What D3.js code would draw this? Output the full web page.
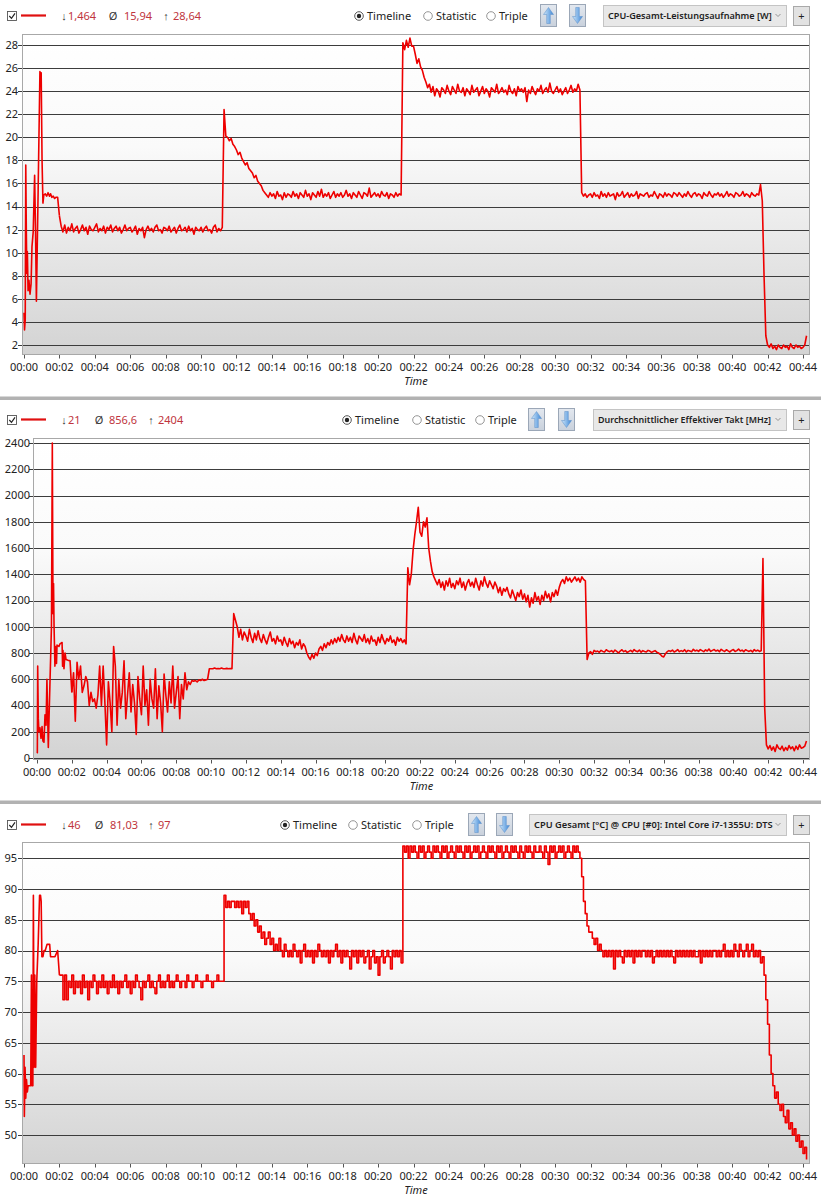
<!DOCTYPE html>
<html><head><meta charset="utf-8">
<script src="https://cdn.jsdelivr.net/npm/d3@7"></script>
<style>body{margin:0;background:#fff;}svg{display:block;font-family:"Segoe UI","Noto Sans","Open Sans",sans-serif;}</style>
</head><body><svg id="c" width="821" height="1200"></svg>
<script>
// ---------- DATA ----------
const tickMinutes = [0,2,4,6,8,10,12,14,16,18,20,22,24,26,28,30,32,34,36,38,40,42,44];
const tickLabels = ["00:00","00:02","00:04","00:06","00:08","00:10","00:12","00:14","00:16","00:18","00:20","00:22","00:24","00:26","00:28","00:30","00:32","00:34","00:36","00:38","00:40","00:42","00:44"];
const powerTicks = [2,4,6,8,10,12,14,16,18,20,22,24,26,28];
const clockTicks = [0,200,400,600,800,1000,1200,1400,1600,1800,2000,2200,2400];
const tempTicks = [50,55,60,65,70,75,80,85,90,95];

const powerStats = ["1,464","15,94","28,64"];
const clockStats = ["21","856,6","2404"];
const tempStats = ["46","81,03","97"];

const powerName = "CPU-Gesamt-Leistungsaufnahme [W]";
const clockName = "Durchschnittlicher Effektiver Takt [MHz]";
const tempName = "CPU Gesamt [°C] @ CPU [#0]: Intel Core i7-1355U: DTS";
const modeLabels = ["Timeline","Statistic","Triple"];

const mainStart = 2.0;   // minutes, first sample of the regular arrays
const sampleStep = 0.1;  // minutes between regular samples

// first two minutes: [minute, value]
const powerEarly = [[0,4.8],[0.03,3.3],[0.07,4.2],[0.1,17.6],[0.13,12.0],[0.16,8.2],[0.19,10.1],[0.23,6.7],[0.28,7.6],[0.34,6.4],[0.4,7.3],[0.45,10.5],[0.52,11.8],[0.6,16.7],[0.65,12.1],[0.7,5.8],[0.8,15.5],[0.9,25.7],[0.94,25.2],[0.97,25.6],[1.02,18.0],[1.07,14.3],[1.12,15.0],[1.2,15.1],[1.28,14.9],[1.36,15.2],[1.44,14.9],[1.5,15.1],[1.57,14.8],[1.65,14.9],[1.73,14.7],[1.8,14.8],[1.9,14.8]];
const powerMain = [
13.2,12.3,11.8,12.4,11.7,12.2,11.9,12.5,11.8,12.1,
12.3,11.7,12.0,12.4,11.9,12.2,11.6,12.3,12.0,11.9,
12.2,12.5,11.8,12.1,11.9,12.3,11.7,12.2,12.0,12.4,
11.8,12.1,12.3,11.9,12.2,11.7,12.0,12.4,11.9,12.1,
12.2,11.8,12.0,12.3,11.6,12.1,11.9,12.2,11.3,12.0,
12.3,11.9,12.1,11.8,12.2,12.4,11.9,12.0,11.7,12.2,
12.1,11.9,12.3,11.8,12.0,12.2,11.7,12.1,12.4,11.9,
12.0,12.2,11.8,12.3,11.9,12.1,11.6,12.2,12.0,11.9,
12.2,11.8,12.1,12.3,11.9,12.0,11.7,12.2,12.4,11.8,
12.1,11.9,12.2,22.4,20.1,20.0,19.7,19.9,19.4,19.2,
18.9,18.5,18.7,18.2,17.9,17.6,17.8,17.3,17.1,16.9,
16.5,16.7,16.2,16.0,15.8,15.4,15.2,15.0,14.8,15.2,
14.9,15.1,14.7,15.3,14.9,15.0,14.6,15.2,14.8,15.1,
15.0,14.8,15.3,14.9,15.1,14.7,15.2,15.0,14.8,15.4,
14.9,15.1,14.6,15.2,15.0,14.8,15.3,14.9,15.5,14.8,
15.1,14.9,15.2,14.7,15.0,15.3,14.8,15.1,14.9,15.2,
14.8,15.0,15.4,14.9,15.1,14.7,15.2,15.0,14.8,15.3,
15.0,14.7,15.2,15.1,14.9,15.6,14.8,15.0,15.2,14.9,
15.1,14.8,15.3,15.0,14.9,15.2,14.7,15.1,15.0,14.8,
15.2,14.9,15.1,15.0,28.2,27.6,28.4,27.8,28.6,27.9,
27.9,27.2,26.4,26.8,26.1,25.8,25.2,24.8,24.3,24.6,
23.9,24.4,23.6,24.2,24.0,23.5,24.3,24.1,23.8,24.5,
24.0,23.7,24.4,24.1,23.8,24.6,24.0,23.9,24.3,23.6,
24.2,24.0,23.7,24.5,23.9,24.1,24.3,23.6,24.0,24.4,
23.8,24.2,24.0,23.5,24.3,24.1,23.9,24.6,23.8,24.0,
24.3,23.9,24.1,23.7,24.5,24.0,23.8,24.2,23.6,24.4,
24.0,24.2,23.9,24.3,23.1,24.1,23.8,24.4,24.0,23.7,
24.2,24.0,24.5,23.8,24.1,24.3,23.9,24.7,24.0,23.8,
24.1,24.4,23.9,24.2,23.7,24.0,24.3,23.8,24.1,24.5,
23.9,24.2,24.0,24.6,24.1,15.2,14.9,15.1,14.8,15.0,
15.1,14.8,15.2,14.9,15.0,14.7,15.3,14.9,15.1,14.8,
15.2,14.9,15.0,15.1,14.6,15.2,14.9,15.0,15.3,14.8,
15.0,15.2,14.8,15.1,14.9,15.0,15.3,14.7,15.1,15.0,
14.9,15.1,15.2,14.8,15.0,14.9,15.3,15.0,14.7,15.1,
15.0,14.8,15.2,14.9,15.1,15.0,14.8,15.2,15.1,14.9,
15.2,15.0,14.8,15.1,14.9,15.3,15.0,14.8,15.1,15.2,
14.9,15.1,15.0,14.7,15.2,15.0,14.9,15.3,15.0,14.8,
15.1,15.0,15.2,14.9,15.1,14.8,15.0,15.3,14.9,15.1,
15.0,14.8,15.2,15.1,14.9,15.0,15.3,14.9,15.1,15.0,
14.8,15.2,15.0,14.9,15.1,15.0,15.9,14.5,8.0,2.8,
2.0,1.8,2.1,1.7,1.9,1.6,2.0,1.8,1.7,2.0,
1.8,1.9,1.6,2.1,1.8,1.7,2.0,1.8,1.9,1.7,
1.8,2.0,2.8];

const clockEarly = [[0,45],[0.02,40],[0.04,700],[0.075,300],[0.11,200],[0.17,230],[0.23,150],[0.29,240],[0.34,130],[0.4,120],[0.46,330],[0.52,250],[0.57,600],[0.65,80],[0.69,300],[0.75,600],[0.83,1000],[0.88,2400],[0.92,1100],[0.95,1330],[0.98,1000],[1.03,700],[1.06,850],[1.12,720],[1.15,860],[1.26,850],[1.32,870],[1.44,880],[1.47,700],[1.49,820],[1.55,680],[1.61,800],[1.67,750],[1.78,745],[1.9,740]];
const clockMain = [
500,650,280,730,600,700,500,550,620,580,
400,500,430,450,380,480,700,400,700,420,
100,580,420,200,850,700,250,600,380,500,
740,300,480,650,350,560,420,180,620,450,
330,700,400,520,250,600,450,380,680,300,
550,420,200,640,480,350,580,420,700,380,
500,620,300,560,450,650,520,580,560,590,
585,590,580,595,590,600,590,595,600,680,
680,680,685,680,682,680,685,680,680,683,
680,682,680,1100,1050,1000,920,980,900,960,
930,890,980,920,880,950,900,970,910,880,
940,900,870,920,960,890,910,870,930,890,
900,860,920,880,850,910,870,890,840,880,
860,900,830,870,850,800,770,750,790,760,
800,780,830,850,820,870,840,880,860,900,
870,910,880,920,890,940,900,880,930,890,
920,880,950,900,870,930,910,890,940,880,
910,870,930,890,900,860,920,880,940,900,
870,910,890,930,880,900,860,920,890,910,
880,900,870,1450,1320,1400,1580,1700,1800,1910,
1720,1690,1800,1760,1830,1600,1500,1420,1380,1350,
1320,1360,1300,1340,1280,1350,1310,1370,1300,1330,
1290,1350,1320,1370,1300,1340,1280,1330,1360,1310,
1340,1300,1370,1320,1280,1350,1310,1380,1330,1300,
1350,1320,1290,1340,1310,1260,1300,1240,1290,1270,
1300,1250,1220,1280,1240,1200,1260,1230,1280,1210,
1250,1190,1240,1150,1220,1180,1260,1200,1230,1170,
1240,1200,1270,1220,1250,1190,1260,1230,1280,1240,
1300,1340,1360,1330,1380,1350,1370,1340,1360,1380,
1350,1370,1340,1380,1360,1350,750,800,810,790,
820,810,815,805,820,812,808,825,815,810,
818,806,822,812,800,815,825,810,818,805,
812,820,808,826,815,810,822,806,818,812,
808,820,815,805,812,818,806,800,790,775,
770,795,810,818,812,822,808,815,826,810,
818,812,825,808,820,815,810,828,816,822,
812,826,818,810,824,815,830,812,820,826,
815,822,810,828,818,812,825,816,808,820,
826,812,818,830,815,822,810,825,818,812,
820,808,826,815,822,812,818,1520,380,100,
70,95,60,85,50,100,75,65,90,55,
80,60,95,70,85,55,90,65,100,75,
80,90,130];

const tempEarly = [[0,63],[0.02,53],[0.06,61],[0.1,56],[0.14,59],[0.19,57],[0.23,58],[0.27,58],[0.32,58],[0.38,58],[0.42,76],[0.45,58],[0.5,58],[0.53,89],[0.57,61],[0.61,76],[0.66,61],[0.72,75],[0.8,81],[0.88,89],[0.93,89],[0.97,88],[1.01,79],[1.07,79],[1.13,80],[1.2,80],[1.3,81],[1.45,81],[1.5,79],[1.6,79],[1.75,79],[1.9,80]];
const tempMain = [
76,76,72,76,72,75,74,76,73,75,
74,75,73,76,74,75,72,75,74,76,
75,73,75,74,76,74,75,73,75,74,
76,74,75,73,75,74,75,76,74,75,
73,75,74,76,75,74,72,75,74,75,
76,74,75,74,73,75,76,74,75,74,
75,76,74,75,74,75,76,75,74,75,
75,74,76,75,75,74,75,76,75,75,
74,75,75,76,75,75,74,75,75,76,
75,75,75,89,87,88,87,88,88,87,
88,87,88,86,88,87,88,86,85,86,
84,85,83,84,82,83,81,82,83,81,
82,80,81,80,82,80,79,81,80,79,
80,79,81,80,79,80,78,80,81,79,
80,79,80,78,80,79,81,80,79,80,
79,80,78,80,79,80,81,79,80,78,
80,79,80,79,77,80,79,80,78,80,
79,80,78,79,80,77,79,80,78,79,
76,79,80,78,79,80,79,77,80,79,
80,79,80,78,97,96,97,95,97,96,
97,96,95,97,96,97,95,96,97,96,
95,97,96,97,96,95,97,96,97,95,
96,97,96,95,97,96,97,96,95,97,
96,97,95,96,97,96,97,95,96,97,
96,95,97,96,97,96,95,97,96,97,
95,96,97,96,95,97,96,97,96,95,
97,96,95,97,96,97,96,95,97,96,
96,97,96,95,97,96,94,97,96,97,
95,96,97,96,97,95,96,97,96,95,
97,96,97,96,95,92,88,86,84,83,
83,82,81,82,80,81,80,79,80,79,
80,79,80,77,80,79,80,79,78,80,
79,80,79,80,78,80,79,80,79,80,
80,79,80,79,80,78,79,80,79,80,
79,80,79,80,79,80,79,78,80,79,
80,79,80,79,80,79,80,79,80,79,
79,80,78,80,79,80,79,80,79,80,
80,79,80,79,80,81,79,80,79,80,
79,81,80,79,81,80,79,80,81,79,
80,81,79,80,79,80,78,79,76,72,
68,63,60,58,56,57,55,54,55,53,
52,54,51,52,50,51,49,50,48,49,
47,48,46];

// ---------- LAYOUT ----------
const panels = [
  {hy:16, plot:[22,34,810,355], xr:[24,803], yd:[2,28], yr:[345,45], ticks:powerTicks, yLabX:18, xLabY:367, timeY:381, step:false,
   stats:powerStats, statX:[64,68,113,124,166,173], radios:[359,428,491], up:540, down:569, drop:[603,786], dropW:164, name:powerName, early:powerEarly, main:powerMain},
  {hy:420, plot:[33,438,810,760], xr:[37,803], yd:[0,2400], yr:[758,443], ticks:clockTicks, yLabX:30, xLabY:772, timeY:786, step:false,
   stats:clockStats, statX:[64,68,99,109,151,158], radios:[347,417,480], up:528, down:558, drop:[593,786], dropW:173, name:clockName, early:clockEarly, main:clockMain},
  {hy:825, plot:[22,842,810,1164], xr:[24,803], yd:[50,95], yr:[1135,858.3], ticks:tempTicks, yLabX:17, xLabY:1176, timeY:1190, step:true,
   stats:tempStats, statX:[64,68,99,110,151,158], radios:[285,353,417], up:468, down:496, drop:[529,786], dropW:239, name:tempName, early:tempEarly, main:tempMain}
];

const svg = d3.select("#c");
const defs = svg.append("defs");
const bg = defs.append("linearGradient").attr("id","bg").attr("x1",0).attr("y1",0).attr("x2",0).attr("y2",1);
[["0%","#ffffff"],["35%","#fafafa"],["100%","#d3d3d3"]].forEach(s=>bg.append("stop").attr("offset",s[0]).attr("stop-color",s[1]));
const ag = defs.append("linearGradient").attr("id","ag").attr("x1",0).attr("y1",0).attr("x2",1).attr("y2",0);
[["0%","#cfe8fb"],["100%","#3f87d6"]].forEach(s=>ag.append("stop").attr("offset",s[0]).attr("stop-color",s[1]));
const bb = defs.append("linearGradient").attr("id","bb").attr("x1",0).attr("y1",0).attr("x2",0).attr("y2",1);
[["0%","#e3e8ef"],["100%","#c9d1dc"]].forEach(s=>bb.append("stop").attr("offset",s[0]).attr("stop-color",s[1]));

// separators
[398, 802].forEach(y=>svg.append("rect").attr("x",0).attr("y",y-1.5).attr("width",821).attr("height",3.5).attr("fill","#b2b2b2"));

function arrowPath(bx, by, dir){
  const cx = bx+8;
  if(dir>0){
    return `M${cx},${by+3} L${cx+5},${by+10} L${cx+1.8},${by+10} L${cx+1.8},${by+19} L${cx-1.8},${by+19} L${cx-1.8},${by+10} L${cx-5},${by+10} Z`;
  }
  return `M${cx},${by+19} L${cx+5},${by+12} L${cx+1.8},${by+12} L${cx+1.8},${by+3} L${cx-1.8},${by+3} L${cx-1.8},${by+12} L${cx-5},${by+12} Z`;
}

panels.forEach((p,pi)=>{
  const g = svg.append("g");
  const hy = p.hy;
  g.append("rect").attr("x",7.5).attr("y",hy-4.5).attr("width",9).attr("height",9).attr("fill","#fff").attr("stroke","#555").attr("stroke-width",0.9);
  g.append("path").attr("d",`M9.3,${hy} L11.5,${hy+2.4} L15,${hy-2.6}`).attr("fill","none").attr("stroke","#222").attr("stroke-width",1.2);
  g.append("line").attr("x1",21).attr("x2",46).attr("y1",hy-0.5).attr("y2",hy-0.5).attr("stroke","#e01010").attr("stroke-width",2.2);
  const sym = ["\u2193","\u00d8","\u2191"];
  for(let k=0;k<3;k++){
    g.append("text").attr("x",p.statX[k*2]).attr("y",hy).attr("dy","0.36em").attr("text-anchor","middle")
      .attr("font-size",11).attr("fill","#333").text(sym[k]);
    g.append("text").attr("x",p.statX[k*2+1]).attr("y",hy).attr("dy","0.36em")
      .attr("font-size",11).attr("fill","#c0353d").text(p.stats[k]);
  }
  p.radios.forEach((rx,k)=>{
    g.append("circle").attr("cx",rx).attr("cy",hy).attr("r",4.3).attr("fill","#fff").attr("stroke",k===0?"#444":"#8a8a8a").attr("stroke-width",0.9);
    if(k===0) g.append("circle").attr("cx",rx).attr("cy",hy).attr("r",2.2).attr("fill","#222");
    g.append("text").attr("x",rx+8).attr("y",hy).attr("dy","0.36em").attr("font-size",11).attr("fill","#222").text(modeLabels[k]);
  });
  [[p.up,1],[p.down,-1]].forEach(([bx,dir])=>{
    const by = hy-12;
    g.append("rect").attr("x",bx+0.5).attr("y",by+0.5).attr("width",16).attr("height",22).attr("fill","url(#bb)").attr("stroke","#9ba7b7");
    g.append("path").attr("d",arrowPath(bx+0.5,by+0.5,dir)).attr("fill","url(#ag)").attr("stroke","#5b8fc9").attr("stroke-width",0.5);
  });
  const dx0 = p.drop[0], dx1 = p.drop[1];
  g.append("rect").attr("x",dx0+0.5).attr("y",hy-10.5).attr("width",dx1-dx0).attr("height",21).attr("fill","#e8e8e8").attr("stroke","#c4c4c4");
  const dt = g.append("text").attr("x",dx0+5).attr("y",hy).attr("dy","0.36em").attr("font-size",10.5).attr("font-weight",600).attr("fill","#1e1e1e").text(p.name);
  const w = dt.node().getComputedTextLength();
  dt.attr("font-size", (10.5*p.dropW/w).toFixed(2));
  g.append("path").attr("d",`M${dx1-10.5},${hy-2} L${dx1-8},${hy+0.5} L${dx1-5.5},${hy-2}`).attr("fill","none").attr("stroke","#8a8a8a").attr("stroke-width",0.9);
  g.append("rect").attr("x",793.5).attr("y",hy-9.5).attr("width",16).attr("height",19).attr("fill","#e2e2e2").attr("stroke","#a9a9a9");
  g.append("text").attr("x",801.5).attr("y",hy).attr("dy","0.36em").attr("text-anchor","middle").attr("font-size",11).attr("fill","#222").text("+");

  const [x0,y0,x1,y1] = p.plot;
  const x = d3.scaleLinear().domain([0,44]).range(p.xr);
  const y = d3.scaleLinear().domain(p.yd).range(p.yr);
  g.append("rect").attr("x",x0).attr("y",y0).attr("width",x1-x0).attr("height",y1-y0).attr("fill","url(#bg)");
  const yAxis = g.append("g");
  p.ticks.forEach(t=>{
    yAxis.append("line").attr("x1",x0-4).attr("x2",x1).attr("y1",Math.round(y(t))+0.5).attr("y2",Math.round(y(t))+0.5).attr("stroke","#3c3c3c").attr("stroke-width",1.1);
    yAxis.append("text").attr("x",p.yLabX).attr("y",y(t)).attr("dy","0.36em").attr("text-anchor","end").attr("font-size",11).attr("fill","#222").text(t);
  });
  tickMinutes.forEach((t,i)=>{
    g.append("line").attr("x1",Math.round(x(t))+0.5).attr("x2",Math.round(x(t))+0.5).attr("y1",y1).attr("y2",y1+3.5).attr("stroke","#555");
    g.append("text").attr("x",x(t)).attr("y",p.xLabY).attr("dy","0.36em").attr("text-anchor","middle").attr("font-size",11).attr("fill","#222").text(tickLabels[i]);
  });
  g.append("text").attr("x",(x0+x1)/2).attr("y",p.timeY).attr("dy","0.36em").attr("text-anchor","middle").attr("font-size",11).attr("font-style","italic").attr("fill","#222").text("Time");
  const cid = "clip"+pi;
  defs.append("clipPath").attr("id",cid).append("rect").attr("x",x0).attr("y",y0).attr("width",x1-x0).attr("height",y1-y0);
  const early = p.early.map(d=>({t:d[0],v:d[1]}));
  const main = p.main.map((v,i)=>({t:mainStart+i*sampleStep,v}));
  const lin = d3.line().x(d=>x(d.t)).y(d=>y(d.v));
  const mainLine = d3.line().x(d=>x(d.t)).y(d=>y(d.v)).curve(p.step ? d3.curveStepAfter : d3.curveLinear);
  const lg = g.append("g").attr("clip-path",`url(#${cid})`).attr("fill","none").attr("stroke","#ee0000").attr("stroke-width",1.6).attr("stroke-linejoin","round");
  lg.append("path").datum(early.concat(main.slice(0,1))).attr("d",lin);
  lg.append("path").datum(main).attr("d",mainLine);
  g.append("rect").attr("x",x0+0.5).attr("y",y0+0.5).attr("width",x1-x0-1).attr("height",y1-y0-1).attr("fill","none").attr("stroke","#a8a8a8");
});
</script></body></html>
